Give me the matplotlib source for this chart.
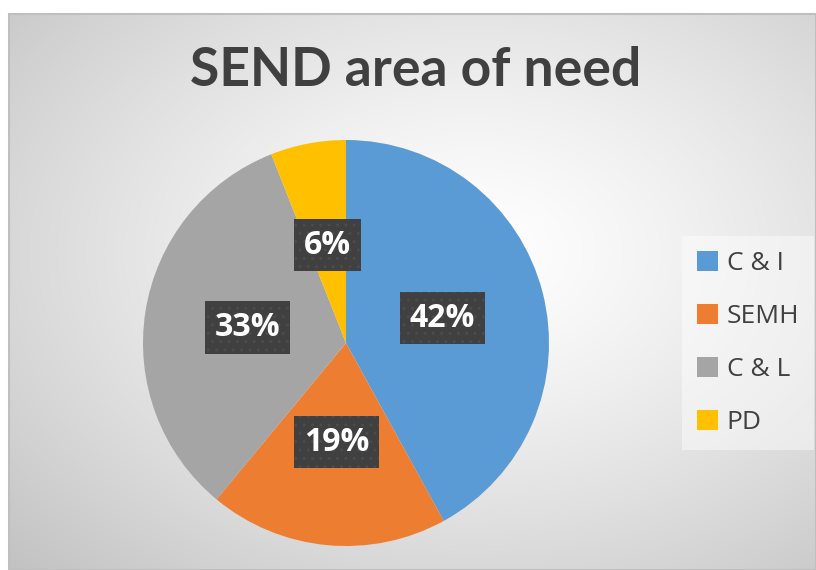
"""
SEND area of need pie chart
"""

import numpy as np
import matplotlib.pyplot as plt
from matplotlib.patches import Rectangle, Patch

categories = ["C & I", "SEMH", "C & L", "PD"]
shares = [42, 19, 33, 6]
colors = ["#5B9BD5", "#ED7D31", "#A5A5A5", "#FFC000"]
title = "SEND area of need"

W, H = 816, 570
fig = plt.figure(figsize=(W / 100, H / 100), dpi=100)
fig.patch.set_facecolor("white")

# background: radial gradient chart area with thin border
bg = fig.add_axes([0, 0, 1, 1])
bg.set_xlim(0, W)
bg.set_ylim(H, 0)
bg.axis("off")
x0, y0, x1, y1 = 9, 14, W, H
yy, xx = np.mgrid[y0:y1, x0:x1]
cx, cy = (x0 + x1) / 2 + 60, (y0 + y1) / 2 - 40
r = np.sqrt(((xx - cx) / (x1 - x0)) ** 2 + ((yy - cy) / (y1 - y0)) ** 2)
r = np.clip(r / r.max(), 0, 1)
shade = 1.0 - 0.24 * r ** 1.3
img = np.dstack([shade, shade, shade])
bg.imshow(img, extent=(x0, x1, y1, y0), interpolation="bilinear", aspect="auto")
bg.add_patch(Rectangle((x0, y0), x1 - x0, y1 - y0, fill=False,
                       edgecolor="#bfbfbf", linewidth=1.5))

# title
bg.text(416, 71, title, ha="center", va="center", fontsize=38.5,
        fontweight="bold", color="#404040", family="Lato")

# pie
cxp, cyp, rad = 346, 343, 203
ax = fig.add_axes([(cxp - rad) / W, (H - cyp - rad) / H, 2 * rad / W, 2 * rad / H])
wedges, texts, autotexts = ax.pie(
    shares,
    colors=colors,
    startangle=90,
    counterclock=False,
    autopct="%.0f%%",
    pctdistance=0.49,
    radius=1.0,
    wedgeprops=dict(linewidth=0),
)
ax.set_xlim(-1, 1)
ax.set_ylim(-1, 1)
ax.set_aspect("equal")
ax.axis("off")

for t in autotexts:
    t.set_fontsize(23)
    t.set_fontweight("bold")
    t.set_color("white")
    t.set_family("Open Sans")
    t.set_zorder(5)
    t.set_bbox(dict(boxstyle="square,pad=0.3", facecolor="#404040",
                    edgecolor="#4b4b4b", hatch="..", linewidth=0))

# drop shadows behind the label boxes
fig.canvas.draw()
for t in autotexts:
    ext = t.get_bbox_patch().get_window_extent()
    bg.add_patch(Rectangle((ext.x0 + 3, H - ext.y1 + 4), ext.width, ext.height,
                           facecolor=(0, 0, 0, 0.22), linewidth=0, zorder=3))
bg.set_zorder(0)

# legend
handles = [Patch(facecolor=c, edgecolor="none") for c in colors]
leg = fig.legend(
    handles, categories,
    loc="center left",
    bbox_to_anchor=(682 / W, 1 - 343 / H),
    borderaxespad=0,
    frameon=True,
    labelspacing=1.05,
    handlelength=0.8,
    handleheight=0.8,
    handletextpad=0.35,
    borderpad=0.55,
    prop=dict(family="Open Sans", size=19),
)
for txt in leg.get_texts():
    txt.set_color("#404040")
leg.get_frame().set_facecolor("white")
leg.get_frame().set_alpha(0.45)
leg.get_frame().set_edgecolor("none")
leg.get_frame().set_boxstyle("square", pad=0)

plt.savefig("out.png", dpi=100)
